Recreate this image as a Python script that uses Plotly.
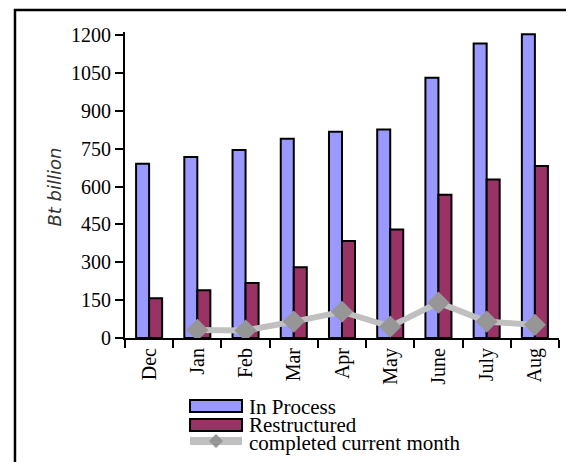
import plotly.graph_objects as go

months = ['Dec', 'Jan', 'Feb', 'Mar', 'Apr', 'May', 'June', 'July', 'Aug']
in_process = [690, 717, 745, 789, 817, 826, 1031, 1166, 1203]
restructured = [157, 189, 218, 280, 384, 430, 567, 628, 681]
completed = [None, 32, 30, 65, 104, 45, 140, 65, 52]
y_ticks = [0, 150, 300, 450, 600, 750, 900, 1050, 1200]

serif = 'Liberation Serif'

fig = go.Figure()
fig.add_trace(go.Bar(x=months, y=in_process, name='In Process',
                     marker=dict(color='#9999FF', line=dict(color='black', width=2))))
fig.add_trace(go.Bar(x=months, y=restructured, name='Restructured',
                     marker=dict(color='#993366', line=dict(color='black', width=2))))
fig.add_trace(go.Scatter(x=months, y=completed, name='completed current month',
                         mode='lines+markers',
                         line=dict(color='#C0C0C0', width=6),
                         marker=dict(symbol='diamond', size=17, color='#969696')))

fig.update_layout(
    width=574, height=462,
    margin=dict(l=117, r=23, t=24, b=132),
    paper_bgcolor='white', plot_bgcolor='white',
    barmode='group', bargap=0.46, bargroupgap=0,
    showlegend=False,
    font=dict(family=serif, size=20, color='black'),
)
fig.update_yaxes(range=[0, 1212], tickvals=y_ticks, showgrid=False, zeroline=False,
                 showline=True, linecolor='black', linewidth=2,
                 ticks='outside', ticklen=8, tickwidth=2, tickcolor='black',
                 tickfont=dict(family=serif, size=20))
fig.update_xaxes(range=[-0.5, 8.5], showgrid=False, showline=True, linecolor='black', linewidth=2,
                 ticks='outside', ticklen=8, tickwidth=2, tickcolor='black',
                 tickson='boundaries', tickangle=-90,
                 tickfont=dict(family=serif, size=20))

# y axis title
fig.add_annotation(text='<i>Bt billion</i>', x=-0.191, y=0.4935, xref='paper', yref='paper',
                   textangle=-90, showarrow=False,
                   font=dict(family='DejaVu Sans', size=18, color='#333333'))

# outer frame
fig.add_shape(type='rect', xref='paper', yref='paper', x0=-0.2535, x1=1.08, y0=-0.45, y1=1.0719,
              line=dict(color='black', width=2.5), layer='below')

# hand-made legend
fig.add_shape(type='rect', xref='paper', yref='paper', x0=0.1498, x1=0.2696, y0=-0.2418, y1=-0.2026,
              fillcolor='#9999FF', line=dict(color='black', width=2))
fig.add_shape(type='rect', xref='paper', yref='paper', x0=0.1498, x1=0.2696, y0=-0.3039, y1=-0.2647,
              fillcolor='#993366', line=dict(color='black', width=2))
fig.add_shape(type='line', xref='paper', yref='paper', x0=0.1498, x1=0.2696, y0=-0.3366, y1=-0.3366,
              line=dict(color='#C0C0C0', width=8))
fig.add_shape(type='path', xref='paper', yref='paper',
              path='M 0.1936,-0.3366 L 0.2097,-0.3137 L 0.2258,-0.3366 L 0.2097,-0.3595 Z',
              fillcolor='#969696', line=dict(width=0))
legend_names = ['In Process', 'Restructured', 'completed current month']
legend_y = [-0.2245, -0.2843, -0.3431]
for name, ly in zip(legend_names, legend_y):
    fig.add_annotation(text=name, x=0.281, y=ly, xref='paper', yref='paper',
                       xanchor='left', yanchor='middle', showarrow=False,
                       font=dict(family=serif, size=21, color='black'))

fig.write_html('out.html')
